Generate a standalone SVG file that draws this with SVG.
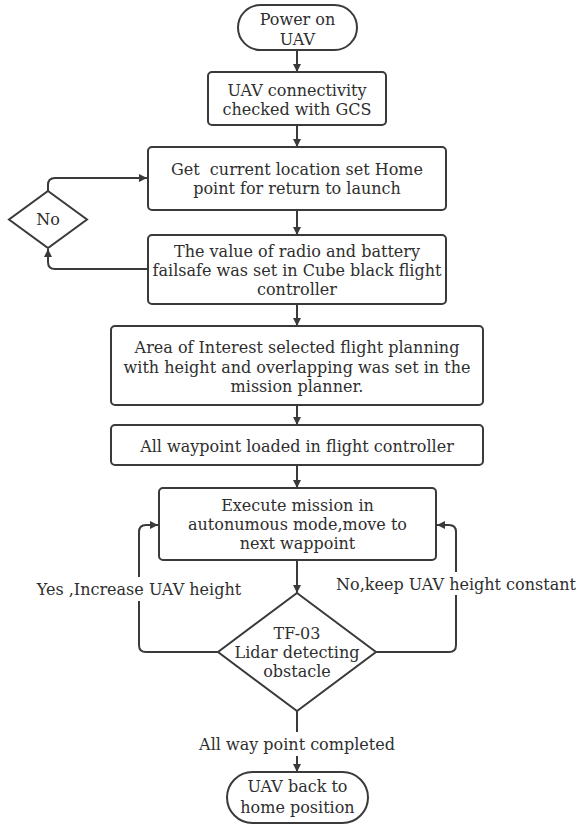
<svg xmlns="http://www.w3.org/2000/svg" width="585" height="825" viewBox="0 0 585 825">
  <style>
    .shape { fill: #ffffff; stroke: #3a3a3a; stroke-width: 2; }
    .edge { fill: none; stroke: #3a3a3a; stroke-width: 2; }
    text { font-family: "DejaVu Serif", "Liberation Serif", serif; font-size: 16px; fill: #2e2e2e; text-anchor: middle; }
  </style>
  <defs>
    <marker id="arrow" viewBox="0 0 10 10" refX="10" refY="5" markerWidth="8" markerHeight="8" markerUnits="userSpaceOnUse" orient="auto">
      <path d="M0,0 L10,5 L0,10 z" fill="#3a3a3a"/>
    </marker>
  </defs>
  <rect width="585" height="825" fill="#ffffff"/>

  <g id="connectors">
    <path class="edge" d="M297,50 V72" marker-end="url(#arrow)"/>
    <path class="edge" d="M297,125 V147" marker-end="url(#arrow)"/>
    <path class="edge" d="M297,210 V235" marker-end="url(#arrow)"/>
    <path class="edge" d="M297,304 V326" marker-end="url(#arrow)"/>
    <path class="edge" d="M297,405 V425" marker-end="url(#arrow)"/>
    <path class="edge" d="M297,465 V488" marker-end="url(#arrow)"/>
    <path class="edge" d="M297,560 V593" marker-end="url(#arrow)"/>
    <!-- failsafe loop back to home point -->
    <path class="edge" d="M148,269 H55 Q48,269 48,262 V249" marker-end="url(#arrow)"/>
    <path class="edge" d="M48,191 V185 Q48,178 55,178 H147" marker-end="url(#arrow)"/>
    <!-- obstacle: yes branch -->
    <path class="edge" d="M218,652 H146 Q139,652 139,645 V601"/>
    <path class="edge" d="M139,577 V532 Q139,525 146,525 H158" marker-end="url(#arrow)"/>
    <!-- obstacle: no branch -->
    <path class="edge" d="M376,652 H449 Q456,652 456,645 V595"/>
    <path class="edge" d="M456,572 V532 Q456,525 449,525 H437" marker-end="url(#arrow)"/>
    <!-- mission complete -->
    <path class="edge" d="M297,711 V732"/>
    <path class="edge" d="M297,756 V772" marker-end="url(#arrow)"/>
    <text x="139" y="595">Yes ,Increase UAV height</text>
    <text x="456" y="590">No,keep UAV height constant</text>
    <text x="297" y="750">All way point completed</text>
  </g>

  <g id="power-on">
    <rect class="shape" x="238" y="5" width="119" height="45" rx="22.5"/>
    <text x="297.5" y="25">Power on</text>
    <text x="297.5" y="45">UAV</text>
  </g>

  <g id="connectivity">
    <rect class="shape" x="208" y="72" width="178" height="53" rx="4"/>
    <text x="297" y="96">UAV connectivity</text>
    <text x="297" y="115">checked with GCS</text>
  </g>

  <g id="home-point">
    <rect class="shape" x="148" y="147" width="298" height="63" rx="4"/>
    <text x="297" y="175">Get&#160; current location set Home</text>
    <text x="297" y="194">point for return to launch</text>
  </g>

  <g id="no-decision">
    <polygon class="shape" points="48,191 87,219.5 48,248 9,219.5"/>
    <text x="48" y="225">No</text>
  </g>

  <g id="failsafe">
    <rect class="shape" x="148" y="235" width="298" height="69" rx="4"/>
    <text x="297" y="257">The value of radio and battery</text>
    <text x="297" y="276">failsafe was set in Cube black flight</text>
    <text x="297" y="295">controller</text>
  </g>

  <g id="flight-planning">
    <rect class="shape" x="111" y="326" width="372" height="79" rx="4"/>
    <text x="297" y="353">Area of Interest selected flight planning</text>
    <text x="297" y="373">with height and overlapping was set in the</text>
    <text x="297" y="392">mission planner.</text>
  </g>

  <g id="waypoints-loaded">
    <rect class="shape" x="111" y="425" width="372" height="40" rx="4"/>
    <text x="297" y="452">All waypoint loaded in flight controller</text>
  </g>

  <g id="execute-mission">
    <rect class="shape" x="159" y="488" width="277" height="72" rx="4"/>
    <text x="297.5" y="511">Execute mission in</text>
    <text x="297.5" y="530">autonumous mode,move to</text>
    <text x="297.5" y="549">next wappoint</text>
  </g>

  <g id="lidar-check">
    <polygon class="shape" points="297,593 376,652 297,711 218,652"/>
    <text x="297" y="639">TF-03</text>
    <text x="297" y="658">Lidar detecting</text>
    <text x="297" y="677">obstacle</text>
  </g>

  <g id="return-home">
    <rect class="shape" x="227" y="772" width="141" height="51" rx="25.5"/>
    <text x="297.5" y="792">UAV back to</text>
    <text x="297.5" y="813">home position</text>
  </g>
</svg>
